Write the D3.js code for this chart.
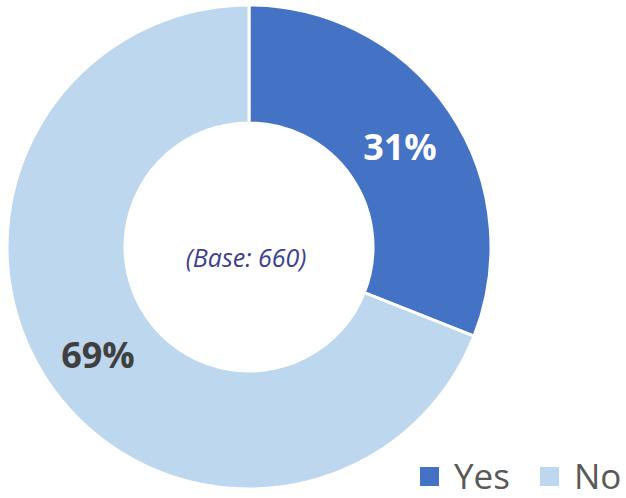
<!DOCTYPE html>
<html><head><meta charset="utf-8">
<script src="https://cdn.jsdelivr.net/npm/d3@7"></script>
<style>body{margin:0;background:#fff}svg{display:block}</style>
</head><body>
<script>
const categories = ["Yes", "No"];
const values = [31, 69];
const colors = ["#4472C4", "#BDD7EE"];
const labelColors = ["#FFFFFF", "#404040"];
const baseLabel = "(Base: 660)";

const W = 626, H = 498;
const svg = d3.select("body").append("svg").attr("width", W).attr("height", H);
const cx = 249, cy = 247, R = 242, r = 124;
const g = svg.append("g").attr("transform", `translate(${cx},${cy})`);
const pie = d3.pie().sort(null).value(d => d)(values);
const arc = d3.arc().innerRadius(r).outerRadius(R);
g.selectAll("path").data(pie).join("path")
  .attr("d", arc).attr("fill", (d, i) => colors[i])
  .attr("stroke", "#fff").attr("stroke-width", 3);

const lblPos = [[151, -101], [-151, 107]];
g.selectAll("text.lbl").data(pie).join("text").attr("class", "lbl")
  .attr("x", (d, i) => lblPos[i][0]).attr("y", (d, i) => lblPos[i][1])
  .attr("text-anchor", "middle").attr("dominant-baseline", "central")
  .attr("font-family", "Open Sans, sans-serif").attr("font-weight", "bold")
  .attr("font-size", 36).attr("fill", (d, i) => labelColors[i])
  .text(d => d.data + "%");

g.append("text").attr("x", -3).attr("y", 10).attr("text-anchor", "middle")
  .attr("dominant-baseline", "central")
  .attr("font-family", "Open Sans, sans-serif").attr("font-style", "italic")
  .attr("font-size", 25).attr("fill", "#3F3F8F").text(baseLabel);

const leg = svg.append("g");
const legX = [420, 540];
categories.forEach((c, i) => {
  leg.append("rect").attr("x", legX[i]).attr("y", 467).attr("width", 19).attr("height", 19).attr("fill", colors[i]);
  leg.append("text").attr("x", legX[i] + 34).attr("y", 489)
    .attr("font-family", "Open Sans, sans-serif").attr("font-size", 35)
    .attr("fill", "#595959").text(c);
});
</script>
</body></html>
